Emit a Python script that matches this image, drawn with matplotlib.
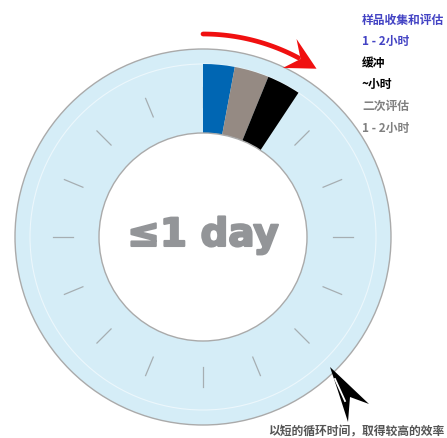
import numpy as np
import matplotlib.pyplot as plt
import matplotlib.patheffects as pe
from matplotlib.patches import Wedge, Circle, Polygon

plt.rcParams["font.family"] = ["Noto Sans CJK SC", "DejaVu Sans"]

# ─── Data ─────────────────────────────────────────────────────────────────────
stages      = ["样品收集和评估", "缓冲", "二次评估"]
stage_span  = [10.6, 11.6, 11.3]            # degrees of the day-clock
stage_color = ["#0066b3", "#958a83", "#000000"]

legend_lines = ["样品收集和评估", "1 - 2小时", "缓冲", "~小时", "二次评估", "1 - 2小时"]
legend_color = ["#4343c4", "#4343c4", "#000000", "#000000", "#808080", "#808080"]

n_ticks     = 16
center_text = "≤1 day"
footer_text = "以短的循环时间，取得较高的效率"

# ─── Geometry (pixel space, y up) ─────────────────────────────────────────────
W, H = 447, 439
cx, cy = 203, H - 238
r_out, r_band, r_in = 188, 173, 104

fig = plt.figure(figsize=(W / 100, H / 100), dpi=100)
ax = fig.add_axes([0, 0, 1, 1])
ax.set_xlim(0, W)
ax.set_ylim(0, H)
ax.set_aspect("equal")
ax.axis("off")

# ring
ax.add_patch(Circle((cx, cy), r_out, facecolor="#d5edf7", edgecolor="#aaaaaa", lw=1.0, zorder=1))
ax.add_patch(Circle((cx, cy), r_band, facecolor="none", edgecolor="#ecf7fc", lw=0.8, zorder=2))
ax.add_patch(Circle((cx, cy), r_in, facecolor="white", edgecolor="#aaaaaa", lw=1.0, zorder=5))

# clock ticks
for k in range(n_ticks):
    a = np.deg2rad(k * 360 / n_ticks)
    ax.plot([cx + 130 * np.cos(a), cx + 150 * np.cos(a)],
            [cy + 130 * np.sin(a), cy + 150 * np.sin(a)],
            color="#a6aeb2", lw=0.9, zorder=3)

# stage segments, clockwise from 12 o'clock
start = 90.0
for span, col in zip(stage_span, stage_color):
    ax.add_patch(Wedge((cx, cy), r_band, start - span, start, width=r_band - r_in,
                       facecolor=col, edgecolor="none", zorder=4))
    start -= span

# red curved arrow above the segments
r_arr = 203
th = np.deg2rad(np.linspace(90, 62, 40))
ax.plot(cx + r_arr * np.cos(th), cy + r_arr * np.sin(th), color="#f01010", lw=3.4,
        solid_capstyle="round", zorder=6)
tip = np.deg2rad(56.0)
base = np.deg2rad(63.0)
tx, ty = cx + r_arr * np.cos(tip), cy + r_arr * np.sin(tip)
b1 = (cx + (r_arr + 16) * np.cos(base + 0.03), cy + (r_arr + 16) * np.sin(base + 0.03))
b2 = (cx + (r_arr - 16) * np.cos(base + 0.03), cy + (r_arr - 16) * np.sin(base + 0.03))
bm = (cx + r_arr * np.cos(base - 0.03), cy + r_arr * np.sin(base - 0.03))
ax.add_patch(Polygon([(tx, ty), b1, bm, b2], closed=True, facecolor="#f01010",
                     edgecolor="none", zorder=6))

# black pointer at lower right
ptr = [(330, H - 368), (369, H - 405), (350, H - 398), (348, H - 423), (338, H - 392)]
ax.add_patch(Polygon(ptr, closed=True, facecolor="black", edgecolor="none", zorder=6))
ax.plot([335, 345], [H - 380, H - 402], color="white", lw=1.3, zorder=7)

# centre label
ax.text(cx, cy + 2, center_text, ha="center", va="center", fontsize=28,
        fontweight="heavy", color="#939598", family=["DejaVu Sans"], zorder=8,
        path_effects=[pe.withStroke(linewidth=1.5, foreground="#939598")])

# legend text
for i, (txt, col) in enumerate(zip(legend_lines, legend_color)):
    ax.text(362, H - (20 + i * 21.6), txt, ha="left", va="center", fontsize=8.5,
            fontweight="bold", color=col)

ax.text(268, H - 431, footer_text, ha="left", va="center", fontsize=8.5,
        fontweight="bold", color="#555555")

fig.savefig("out.png", dpi=100)
